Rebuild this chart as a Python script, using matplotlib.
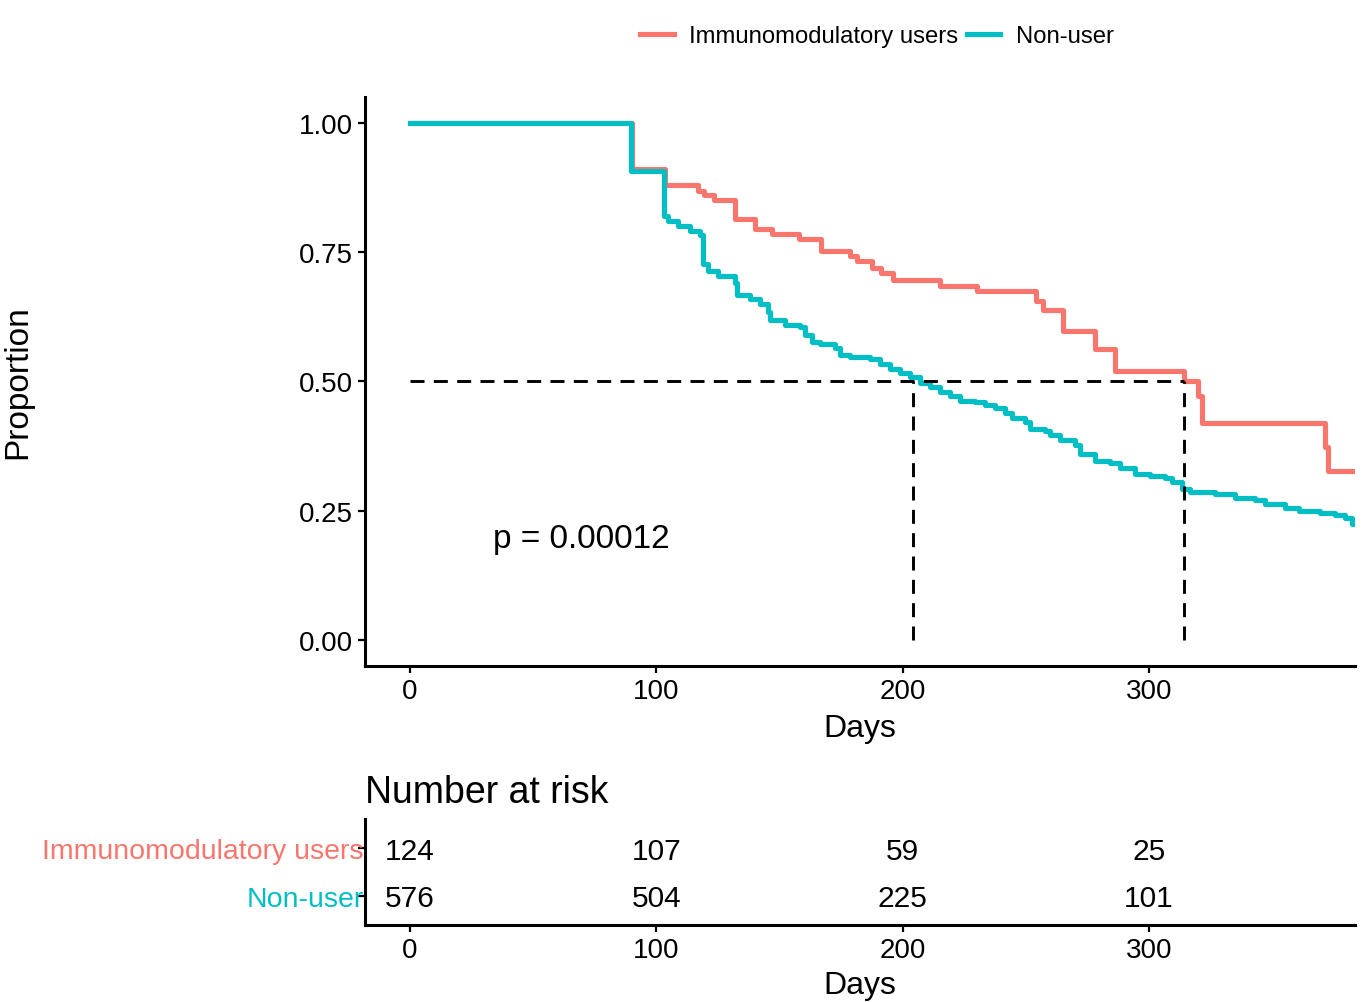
import numpy as np
import matplotlib.pyplot as plt

plt.rcParams['font.family'] = ['Liberation Sans', 'DejaVu Sans']

# Kaplan-Meier step estimates (day, survival)
immuno_days = [0, 90, 103.5, 117, 119.5, 123.5, 132, 140, 147, 158, 167, 178.6, 181.5,
               187.6, 191, 196, 215, 230, 254, 257, 265, 278, 286, 314, 320, 321.5,
               371.6, 372.5, 384]
immuno_surv = [1.0, 0.911, 0.88, 0.869, 0.86, 0.85, 0.815, 0.795, 0.786, 0.776, 0.753,
               0.743, 0.733, 0.72, 0.71, 0.697, 0.685, 0.674, 0.656, 0.639, 0.598,
               0.562, 0.521, 0.50, 0.471, 0.419, 0.374, 0.326, 0.326]

nonuser_days = [0, 89.7, 103.1, 104.8, 108.8, 113.7, 117.7, 119, 121, 125, 132, 132.8,
                138, 142, 145.4, 146.2, 152.3, 158.3, 160.4, 163.2, 166.5, 172.6, 174.6,
                178.6, 186.8, 190.8, 194.9, 198.9, 203, 207, 211, 215.2, 219.2, 223.3,
                229.4, 233.5, 237.5, 241.6, 244.4, 249.7, 251.7, 257.8, 259.8, 263.9,
                270, 272, 278.1, 284.2, 288.3, 294.4, 300.4, 306.5, 309.4, 313.4, 316.7,
                326.8, 335, 343, 347, 355, 361, 369.5, 375.6, 379.6, 382.5, 384]
nonuser_surv = [1.0, 0.907, 0.82, 0.81, 0.80, 0.79, 0.784, 0.728, 0.714, 0.703, 0.691,
                0.668, 0.66, 0.65, 0.635, 0.618, 0.61, 0.606, 0.59, 0.577, 0.573, 0.564,
                0.552, 0.548, 0.544, 0.533, 0.525, 0.517, 0.508, 0.498, 0.49, 0.479,
                0.471, 0.463, 0.46, 0.454, 0.448, 0.44, 0.429, 0.421, 0.409, 0.405,
                0.396, 0.386, 0.378, 0.359, 0.347, 0.342, 0.332, 0.322, 0.317, 0.313,
                0.305, 0.293, 0.286, 0.282, 0.274, 0.27, 0.264, 0.255, 0.249, 0.245,
                0.241, 0.236, 0.224, 0.224]

medians = [204, 314]
groups = ['Immunomodulatory users', 'Non-user']
colors = ['#F8766D', '#00BFC4']
risk_times = [0, 100, 200, 300]
risk_immuno = [124, 107, 59, 25]
risk_nonuser = [576, 504, 225, 101]
pval_text = 'p = 0.00012'

xlim = (-18.3, 383.6)

fig = plt.figure(figsize=(13.64, 10.03), dpi=100)

# survival curves
ax = fig.add_axes([0.2676, 0.335, 0.7258, 0.5673])
ax.step(immuno_days, immuno_surv, where='post', color=colors[0], lw=3.7, label=groups[0])
ax.step(nonuser_days, nonuser_surv, where='post', color=colors[1], lw=3.7, label=groups[1])
ax.plot([0, max(medians)], [0.5, 0.5], color='black', lw=2.1, ls=(0, (4.8, 3.2)))
for m in medians:
    ax.plot([m, m], [0, 0.5], color='black', lw=2.1, ls=(0, (4.8, 3.2)))
ax.text(33.7, 0.197, pval_text, fontsize=24, va='center', ha='left')

ax.set_xlim(*xlim)
ax.set_ylim(-0.05, 1.05)
ax.set_xticks(risk_times)
ax.set_yticks([0, 0.25, 0.5, 0.75, 1.0])
ax.set_yticklabels(['0.00', '0.25', '0.50', '0.75', '1.00'])
ax.set_xlabel('Days', fontsize=23, labelpad=6)
ax.set_ylabel('Proportion', fontsize=24)
ax.yaxis.set_label_coords(-0.335, 0.5)
for s in ['top', 'right']:
    ax.spines[s].set_visible(False)
for s in ['left', 'bottom']:
    ax.spines[s].set_linewidth(2.2)
ax.tick_params(labelsize=20, width=1.6, length=5, pad=4)

fig.legend(loc='center', bbox_to_anchor=(0.643, 0.963), ncol=2, frameon=False,
           fontsize=17.2, handlelength=1.4, handletextpad=0.65, columnspacing=0.35)

# number at risk table
rt = fig.add_axes([0.2676, 0.0768, 0.7258, 0.1057])
for t, n in zip(risk_times, risk_immuno):
    rt.text(t, 1.93, str(n), fontsize=21.5, ha='center', va='center')
for t, n in zip(risk_times, risk_nonuser):
    rt.text(t, 0.95, str(n), fontsize=21.5, ha='center', va='center')
rt.set_xlim(*xlim)
rt.set_ylim(0.4, 2.6)
rt.set_xticks(risk_times)
rt.set_yticks([2, 1])
rt.set_yticklabels(groups)
for lab, c in zip(rt.get_yticklabels(), colors):
    lab.set_color(c)
rt.tick_params(axis='y', labelsize=20.5, width=1.6, length=5, pad=-4)
rt.tick_params(axis='x', labelsize=20, width=1.6, length=5, pad=4)
rt.set_xlabel('Days', fontsize=23, labelpad=5)
rt.set_title('Number at risk', fontsize=27, loc='left', pad=12)
for s in ['top', 'right']:
    rt.spines[s].set_visible(False)
for s in ['left', 'bottom']:
    rt.spines[s].set_linewidth(2.2)

fig.savefig('out.png', dpi=100)
